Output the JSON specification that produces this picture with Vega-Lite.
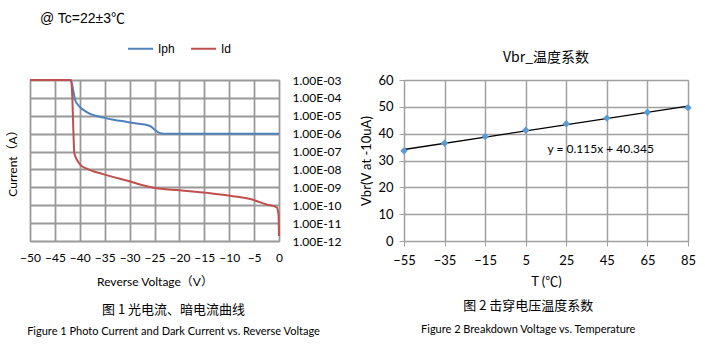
{
  "$schema": "https://vega.github.io/schema/vega-lite/v6.json",
  "background": "white",
  "padding": {"left": 5, "top": 11, "right": 5, "bottom": 5},
  "spacing": 18,
  "config": {
    "view": {"stroke": "#a6a6a6", "strokeWidth": 1},
    "font": "Lato, Noto Sans CJK SC",
    "axis": {
      "labelFont": "Lato, Noto Sans CJK SC",
      "titleFont": "Lato, Noto Sans CJK SC",
      "labelColor": "#000",
      "titleColor": "#000",
      "titleFontWeight": "normal",
      "labelFlush": false,
      "gridColor": "#a0a0a0",
      "gridWidth": 1.5,
      "gridOpacity": 1
    }
  },
  "hconcat": [
    {
      "title": {
        "text": "图 1  光电流、暗电流曲线",
        "subtitle": "Figure 1 Photo Current and Dark Current vs. Reverse Voltage",
        "orient": "bottom",
        "anchor": "middle",
        "font": "Noto Sans CJK SC",
        "fontSize": 13,
        "fontWeight": "normal",
        "color": "#000",
        "subtitleFont": "Lato",
        "subtitleFontSize": 11,
        "subtitleColor": "#000",
        "subtitlePadding": 9,
        "offset": 16
      },
      "vconcat": [
        {
          "width": 249,
          "height": 161,
          "title": {
            "text": "@ Tc=22±3℃",
            "anchor": "start",
            "frame": "group",
            "dx": 10,
            "font": "Liberation Sans, Noto Sans CJK SC",
            "fontSize": 14,
            "fontWeight": "normal",
            "color": "#000",
            "offset": 48
          },
          "data": {
            "values": [
              {"series": "Iph", "V": -50, "I": 1e-3},
              {"series": "Iph", "V": -41.8, "I": 1e-3},
              {"series": "Iph", "V": -41.3, "I": 2.5e-4},
              {"series": "Iph", "V": -41.0, "I": 8.7e-5},
              {"series": "Iph", "V": -40.6, "I": 5e-5},
              {"series": "Iph", "V": -40.0, "I": 3.1e-5},
              {"series": "Iph", "V": -38.6, "I": 1.6e-5},
              {"series": "Iph", "V": -35.3, "I": 7.9e-6},
              {"series": "Iph", "V": -31.9, "I": 5.2e-6},
              {"series": "Iph", "V": -28.6, "I": 3.7e-6},
              {"series": "Iph", "V": -25.9, "I": 2.7e-6},
              {"series": "Iph", "V": -24.9, "I": 1.6e-6},
              {"series": "Iph", "V": -23.9, "I": 1.07e-6},
              {"series": "Iph", "V": -23.2, "I": 1e-6},
              {"series": "Iph", "V": 0, "I": 1e-6},
              {"series": "Id", "V": -50, "I": 1e-3},
              {"series": "Id", "V": -41.8, "I": 1e-3},
              {"series": "Id", "V": -41.5, "I": 1.07e-4},
              {"series": "Id", "V": -41.3, "I": 1.6e-6},
              {"series": "Id", "V": -41.1, "I": 8.5e-8},
              {"series": "Id", "V": -40.8, "I": 4.6e-8},
              {"series": "Id", "V": -40.3, "I": 2.6e-8},
              {"series": "Id", "V": -40.0, "I": 1.95e-8},
              {"series": "Id", "V": -38.6, "I": 1.1e-8},
              {"series": "Id", "V": -35.3, "I": 5.5e-9},
              {"series": "Id", "V": -30.6, "I": 2.4e-9},
              {"series": "Id", "V": -25.2, "I": 9.5e-10},
              {"series": "Id", "V": -19.9, "I": 6.8e-10},
              {"series": "Id", "V": -14.5, "I": 4.9e-10},
              {"series": "Id", "V": -9.2, "I": 3.2e-10},
              {"series": "Id", "V": -5.2, "I": 2e-10},
              {"series": "Id", "V": -2.5, "I": 1.1e-10},
              {"series": "Id", "V": -0.47, "I": 7.6e-11},
              {"series": "Id", "V": -0.1, "I": 3e-11},
              {"series": "Id", "V": 0, "I": 1.9e-12}
            ]
          },
          "mark": {"type": "line", "strokeWidth": 2, "interpolate": "monotone"},
          "encoding": {
            "x": {
              "field": "V",
              "type": "quantitative",
              "scale": {"domain": [-50, 0], "nice": false, "zero": false},
              "axis": {
                "values": [-50, -45, -40, -35, -30, -25, -20, -15, -10, -5, 0],
                "title": "Reverse Voltage（V）",
                "titleFontSize": 12,
                "titlePadding": 13,
                "labelFontSize": 12,
                "labelPadding": 11,
                "labelOverlap": false,
                "ticks": true,
                "tickSize": 0,
                "tickColor": "#999",
                "domain": true,
                "domainColor": "#999",
                "grid": true,
                "gridColor": "#999",
                "gridWidth": 1.8
              }
            },
            "y": {
              "field": "I",
              "type": "quantitative",
              "scale": {"type": "log", "domain": [1e-12, 1e-3]},
              "axis": {
                "orient": "right",
                "title": "Current（A）",
                "titleFontSize": 12,
                "titleAngle": -90,
                "titleX": -267,
                "titleY": 80,
                "titleAlign": "center",
                "titleBaseline": "middle",
                "values": [1e-12, 1e-11, 1e-10, 1e-9, 1e-8, 1e-7, 1e-6, 1e-5, 1e-4, 1e-3],
                "labelExpr": "'1.00E-' + (round(-log(datum.value)/LN10) < 10 ? '0' : '') + round(-log(datum.value)/LN10)",
                "labelFontSize": 12,
                "labelPadding": 13,
                "labelOverlap": false,
                "ticks": true,
                "tickSize": 0,
                "tickColor": "#999",
                "domain": true,
                "domainColor": "#999",
                "grid": true,
                "gridColor": "#999",
                "gridWidth": 1.8
              }
            },
            "color": {
              "field": "series",
              "type": "nominal",
              "scale": {"domain": ["Iph", "Id"], "range": ["#4f81bd", "#c0504d"]},
              "legend": {
                "orient": "none",
                "legendX": 97,
                "legendY": -45,
                "direction": "horizontal",
                "title": null,
                "symbolType": "stroke",
                "symbolStrokeWidth": 2,
                "symbolSize": 625,
                "labelFont": "Liberation Sans",
                "labelFontSize": 12,
                "labelColor": "#000",
                "columnPadding": 12
              }
            }
          }
        }
      ]
    },
    {
      "title": {
        "text": "图 2 击穿电压温度系数",
        "subtitle": "Figure 2 Breakdown Voltage vs. Temperature",
        "orient": "bottom",
        "anchor": "middle",
        "font": "Noto Sans CJK SC",
        "fontSize": 13,
        "fontWeight": "normal",
        "color": "#000",
        "subtitleFont": "Lato",
        "subtitleFontSize": 11,
        "subtitleColor": "#000",
        "subtitlePadding": 11,
        "offset": 11
      },
      "vconcat": [
        {
          "width": 284,
          "height": 161,
          "title": {
            "text": "Vbr_温度系数",
            "anchor": "middle",
            "frame": "group",
            "font": "Noto Sans CJK SC",
            "fontSize": 14,
            "fontWeight": "normal",
            "color": "#000",
            "offset": 9
          },
          "data": {
            "values": [
              {"T": -55, "Vbr": 33.6},
              {"T": -35, "Vbr": 36.4},
              {"T": -15, "Vbr": 38.9},
              {"T": 5, "Vbr": 41.3},
              {"T": 25, "Vbr": 43.7},
              {"T": 45, "Vbr": 45.8},
              {"T": 65, "Vbr": 48.0},
              {"T": 85, "Vbr": 49.7}
            ]
          },
          "encoding": {
            "x": {
              "field": "T",
              "type": "quantitative",
              "scale": {"domain": [-55, 85], "nice": false, "zero": false},
              "axis": {
                "values": [-55, -35, -15, 5, 25, 45, 65, 85],
                "title": "T (℃)",
                "titleFontSize": 13,
                "titlePadding": 8,
                "labelFontSize": 13,
                "labelPadding": 8,
                "ticks": true,
                "tickSize": 5,
                "tickColor": "#a0a0a0",
                "domain": true,
                "domainColor": "#a0a0a0",
                "grid": true
              }
            },
            "y": {
              "field": "Vbr",
              "type": "quantitative",
              "scale": {"domain": [0, 60], "nice": false},
              "axis": {
                "values": [0, 10, 20, 30, 40, 50, 60],
                "title": "Vbr(V at -10uA)",
                "titleFontSize": 13,
                "titlePadding": 4,
                "labelFontSize": 13,
                "labelPadding": 6,
                "ticks": true,
                "tickSize": 5,
                "tickColor": "#a0a0a0",
                "domain": true,
                "domainColor": "#a0a0a0",
                "grid": true
              }
            }
          },
          "layer": [
            {
              "transform": [{"regression": "Vbr", "on": "T", "extent": [-55, 85]}],
              "mark": {"type": "line", "color": "#000", "strokeWidth": 1.3}
            },
            {
              "mark": {"type": "point", "shape": "diamond", "filled": true, "size": 55, "color": "#5b9bd5", "opacity": 1}
            },
            {
              "data": {"values": [{"eq": "y = 0.115x + 40.345", "T": 42, "Vbr": 34.2}]},
              "mark": {"type": "text", "font": "Lato", "fontSize": 12, "color": "#000"},
              "encoding": {"text": {"field": "eq"}}
            }
          ]
        }
      ]
    }
  ]
}
